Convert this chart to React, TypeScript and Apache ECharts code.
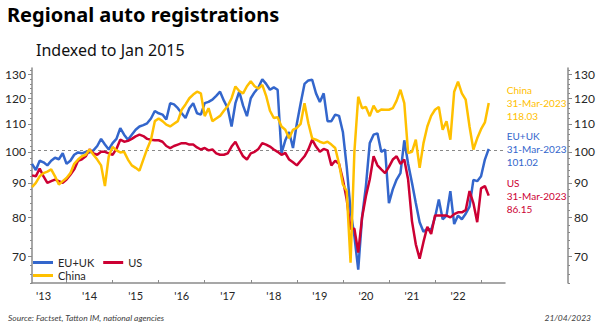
import React, { useEffect, useRef } from "react";
import * as echarts from "echarts";

// ---- data (monthly, Apr 2013 .. Mar 2023), index Jan 2015 = 100 ----
const seriesNames = ["EU+UK", "US", "China"];
const seriesColors = ["#3366CC", "#CC0033", "#FFC000"];
const firstYear = 2013;
const firstMonth = 4; // April
const lastDateLabel = "31-Mar-2023";

const euuk = [
  96, 94, 97, 96.5, 95.5, 97, 98, 97.5, 99.5, 96,
  97, 99, 99.8, 99.5, 100, 99.8, 100.5, 102, 104.5, 102.5,
  100.8, 103, 104.5, 108.4, 106, 104.2, 106, 107.8, 109, 109.5,
  110.2, 112, 114.9, 114, 113.5, 111.6, 118, 117.5, 116, 114,
  112.2, 116, 118, 114, 113.5, 118, 118.5, 119.4, 121, 122.7,
  119, 116, 109, 118, 122.7, 117, 112.9, 120, 122.5, 124.5,
  128, 126, 123.5, 124.5, 123.5, 99.5, 104, 107, 101.3, 110,
  118, 126, 127.5, 127.8, 122, 118.5, 122, 111, 111, 113.5,
  113, 107, 95, 82, 75, 67, 80, 89, 103, 106,
  106.5, 100, 100.8, 84, 88, 91, 93, 104, 96, 90,
  84, 78.7, 76.2, 77, 76.7, 80, 85, 79.5, 80.5, 87.5,
  78.2, 80.5, 79.5, 81, 83, 90.9, 90.5, 92, 97.4, 101.02,
];

const us = [
  92.3, 92, 94.5, 92, 90, 90.5, 91, 90.5, 90, 91,
  92.5, 94.2, 97, 97.5, 98.5, 100.8, 99.5, 99, 100, 100,
  99.5, 99, 101, 104.2, 103.5, 103.8, 104.5, 105.4, 106, 105.5,
  104.5, 104.2, 104, 104, 103.5, 102, 101.3, 102, 102.5, 103,
  103, 102.5, 102.5, 101.5, 100.8, 101.3, 100.5, 100.8, 99.5, 99,
  99, 99.5, 101.8, 103.5, 100.8, 98.5, 97.4, 99.5, 100, 101,
  103, 102.5, 101.8, 100.8, 100, 99, 99.6, 97.4, 96.5, 95.5,
  97, 98.5, 100.8, 104.2, 101.8, 100, 101, 100.5, 95.5, 97,
  96, 91, 85, 77, 77, 71, 80, 86, 91, 98.5,
  95.5, 94.2, 93, 95, 97.4, 98.5, 96, 97.4, 91, 79,
  73, 69.5, 73.6, 77.5, 75.6, 80.5, 80.5, 80.5, 80.5, 80,
  80.9, 81.4, 81.4, 82, 87.5, 84, 78.7, 88.3, 89, 86.15,
];

const china = [
  88.7, 90, 92, 93, 93.5, 94.2, 92, 89.5, 90.5, 91.5,
  93, 96, 97.4, 98.5, 99, 100.8, 99, 97.4, 95.5, 89,
  98.5, 101.7, 100.5, 99.8, 100, 97.4, 95.5, 94.7, 93.8, 97.4,
  101, 104.2, 111, 112, 111, 109.7, 109, 110, 111, 115.4,
  117.5, 120, 121.5, 122.7, 122, 112.9, 116, 111, 112, 113,
  115, 116.9, 120, 124.9, 123, 122, 125, 127.1, 125, 124,
  125.6, 121, 115, 112.2, 112.5, 109, 107.8, 104.7, 107.8, 108.5,
  110, 118, 110.2, 104.7, 104.2, 103.5, 103, 103.5, 102.5, 101.3,
  96, 89.5, 87.5, 68.6, 100, 120.6, 116, 116.5, 112.9, 117,
  114.5, 115.5, 115.4, 115.4, 116, 119, 123.5, 118, 99.6, 100,
  104.2, 94.7, 103, 109, 113, 115.4, 116.5, 107.8, 111, 104.2,
  122.7, 127, 122, 119.4, 109, 100.8, 104.7, 108, 110.5, 118.03,
];

const seriesValues = [euuk, us, china];

// axes
const yTicks = [70, 80, 90, 100, 110, 120, 130];
const yMinorTicks = [
  64, 66, 68, 70, 72, 74, 76, 78, 80, 82, 84, 86, 88, 90, 92, 94, 96, 98, 100,
  102, 104, 106, 108, 110, 112, 114, 116, 118, 120, 122, 124, 126, 128, 130, 132,
];
const yRange = [64, 133];
const xRange = [2013.25, 2023.52];
const xYearTicks = [2014, 2015, 2016, 2017, 2018, 2019, 2020, 2021, 2022, 2023];
const xYearLabels = [2013, 2014, 2015, 2016, 2017, 2018, 2019, 2020, 2021, 2022];
const referenceLevel = 100;

const FONT = "Lato";
const TITLE_FONT = "Noto Sans";
const AXIS_COLOR = "#8a8a8a";
const TEXT_COLOR = "#262626";

const monthPos = (i: number) => firstYear + (firstMonth - 1 + i) / 12;

function buildOption() {
  const lnMin = Math.log(yRange[0]);
  const lnMax = Math.log(yRange[1]);
  const yAxisBase = (position: "left" | "right", offset: number, major: boolean) => ({
    type: "value",
    position,
    offset,
    min: lnMin,
    max: lnMax,
    splitLine: { show: false },
    axisLine: {
      show: major,
      lineStyle: { color: AXIS_COLOR, width: 1.5 },
    },
    axisTick: {
      show: true,
      customValues: (major ? yTicks : yMinorTicks).map(Math.log),
      length: major ? 4 : 2,
      lineStyle: { color: AXIS_COLOR, width: 1 },
    },
    axisLabel: {
      show: major,
      customValues: yTicks.map(Math.log),
      formatter: (v: number) => String(Math.round(Math.exp(v))),
      color: TEXT_COLOR,
      fontSize: 12,
      fontFamily: FONT,
      margin: 6,
    },
  });

  const series = seriesNames.map((name, k) => {
    const vals = seriesValues[k];
    const last = vals[vals.length - 1];
    return {
      type: "line",
      name,
      data: vals.map((v, i) => [monthPos(i), Math.log(v)]),
      yAxisIndex: 0,
      symbol: "none",
      showSymbol: false,
      lineStyle: { color: seriesColors[k], width: 2.5 },
      itemStyle: { color: seriesColors[k] },
      z: 3 + k,
      endLabel: {
        show: true,
        formatter: () => `${name}\n${lastDateLabel}\n${last.toFixed(2)}`,
        color: seriesColors[k],
        fontSize: 10,
        lineHeight: 13,
        fontFamily: FONT,
        distance: 18,
      },
      markLine:
        k === 0
          ? {
              silent: true,
              symbol: ["none", "none"],
              label: { show: false },
              lineStyle: { type: [3, 3], color: "#8a8a8a", width: 1 },
              data: [{ yAxis: Math.log(referenceLevel) }],
              z: 1,
            }
          : undefined,
    };
  });

  const legendBase = {
    icon: "rect",
    itemWidth: 20,
    itemHeight: 3,
    itemGap: 9,
    padding: 0,
    left: 33,
    textStyle: { fontSize: 11, color: TEXT_COLOR, fontFamily: FONT },
  };

  return {
    animation: false,
    backgroundColor: "#ffffff",
    textStyle: { fontFamily: FONT },
    title: [
      {
        text: "Regional auto registrations",
        left: 7,
        top: 4,
        padding: 0,
        textStyle: { fontSize: 20, fontWeight: "bold", color: "#000000", fontFamily: TITLE_FONT },
      },
      {
        text: "Indexed to Jan 2015",
        left: 36,
        top: 42,
        padding: 0,
        textStyle: { fontSize: 16, fontWeight: "normal", color: "#111111", fontFamily: TITLE_FONT },
      },
    ],
    legend: [
      { ...legendBase, data: ["EU+UK", "US"], top: 257 },
      { ...legendBase, data: ["China"], top: 270 },
    ],
    grid: { left: 32, right: 95, top: 68, bottom: 45, containLabel: false },
    xAxis: {
      type: "value",
      min: xRange[0],
      max: xRange[1],
      splitLine: { show: false },
      axisLine: { lineStyle: { color: AXIS_COLOR, width: 1.5 } },
      axisTick: {
        customValues: xYearTicks,
        inside: true,
        length: 3,
        lineStyle: { color: AXIS_COLOR },
      },
      axisLabel: {
        customValues: xYearLabels.map((y) => y + 0.5),
        formatter: (v: number) => "'" + String(Math.floor(v)).slice(2),
        color: TEXT_COLOR,
        fontSize: 11,
        fontFamily: FONT,
        margin: 7,
      },
    },
    yAxis: [
      yAxisBase("left", 0, true),
      yAxisBase("right", 63, true),
      yAxisBase("left", 0, false),
      yAxisBase("right", 63, false),
    ],
    series,
    graphic: [
      {
        type: "text",
        left: 8,
        top: 313,
        style: {
          text: "Source: Factset, Tatton IM, national agencies",
          font: `italic 8.5px ${FONT}`,
          fill: "#404040",
        },
      },
      {
        type: "text",
        right: 9,
        top: 313,
        style: {
          text: "21/04/2023",
          font: `italic 8.5px ${FONT}`,
          fill: "#404040",
        },
      },
    ],
  };
}

export default function App() {
  const ref = useRef<HTMLDivElement>(null);
  useEffect(() => {
    if (!ref.current) return;
    const chart = echarts.init(ref.current, undefined, { renderer: "svg" });
    chart.setOption(buildOption() as any);
    return () => chart.dispose();
  }, []);
  return (
    <div
      ref={ref}
      style={{ position: "fixed", left: 0, top: 0, width: 600, height: 328, background: "#fff" }}
    />
  );
}
